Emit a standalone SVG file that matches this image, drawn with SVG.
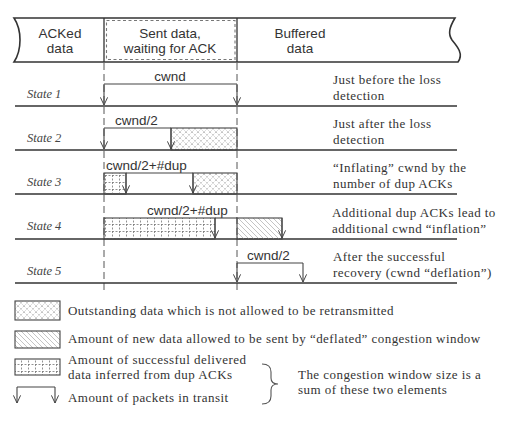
<svg xmlns="http://www.w3.org/2000/svg" width="508" height="421" viewBox="0 0 508 421">
<defs>
<style>
.sans{font-family:"Liberation Sans",Arial,sans-serif;font-size:13.5px;fill:#333}
.hdr{font-family:"Liberation Sans",Arial,sans-serif;font-size:13.5px;fill:#333;text-anchor:middle}
.st{font-family:"Liberation Serif","Times New Roman",serif;font-size:12.5px;font-style:italic;fill:#444}
.ser{font-family:"Liberation Serif","Times New Roman",serif;font-size:13px;letter-spacing:0.45px;fill:#333}
.row{stroke:#333;stroke-width:1.6;fill:none}
.box{stroke:#444;stroke-width:1.1}
.vd{stroke:#555;stroke-width:1;stroke-dasharray:7 4;fill:none}
.br{stroke:#444;stroke-width:1.1;fill:none}
.ar{stroke:#444;stroke-width:1.1;fill:none;marker-end:url(#v)}
</style>
<marker id="v" viewBox="0 0 10 10" refX="9.5" refY="5" markerWidth="9" markerHeight="9" markerUnits="userSpaceOnUse" orient="auto">
<path d="M1,1 L9.5,5 L1,9" fill="none" stroke="#444" stroke-width="1.1"/>
</marker>
<pattern id="cross" width="6" height="6" patternUnits="userSpaceOnUse">
<path d="M0,0L6,6M6,0L0,6" stroke="#aaa" stroke-width="0.7" stroke-dasharray="1.5 1"/>
</pattern>
<pattern id="diag" width="5" height="5" patternUnits="userSpaceOnUse">
<path d="M-1,-1L6,6M-1,4L1,6M4,-1L6,1" stroke="#aaa" stroke-width="0.7"/>
</pattern>
<pattern id="grid" width="7" height="7" patternUnits="userSpaceOnUse">
<path d="M0,0.5H7M0.5,0V7" stroke="#777" stroke-width="0.8" stroke-dasharray="2 1.5"/>
</pattern>
</defs>
<rect width="508" height="421" fill="#fff"/>

<g id="header">
<path d="M14,18 H455 C449,28 448,34 452,40 C457,46 464,54 458,62 H14 C22,50 22,30 14,18 Z" fill="#fff" stroke="#333" stroke-width="1.6"/>
<line x1="104" y1="18" x2="104" y2="62" stroke="#333" stroke-width="1.3"/>
<line x1="237" y1="18" x2="237" y2="62" stroke="#333" stroke-width="1.3"/>
<rect x="106.5" y="20.5" width="128.5" height="39" fill="none" stroke="#777" stroke-width="1.1" stroke-dasharray="3 2.5"/>
<text class="hdr" x="60" y="38">ACKed</text>
<text class="hdr" x="60" y="53">data</text>
<text class="hdr" x="170" y="38">Sent data,</text>
<text class="hdr" x="170" y="53">waiting for ACK</text>
<text class="hdr" x="300" y="38">Buffered</text>
<text class="hdr" x="300" y="53">data</text>
</g>

<g id="guides">
<line class="vd" x1="104" y1="63" x2="104" y2="292"/>
<line class="vd" x1="237" y1="63" x2="237" y2="292"/>
</g>

<g id="state1">
<line class="row" x1="15" y1="106" x2="457" y2="106"/>
<text class="st" x="27" y="98">State 1</text>
<text class="sans" x="170" y="81" text-anchor="middle">cwnd</text>
<line class="br" x1="104" y1="84" x2="237" y2="84"/>
<text class="ser" x="333" y="84">Just before the loss</text>
<text class="ser" x="333" y="100">detection</text>
</g>

<g id="state2">
<line class="row" x1="15" y1="150" x2="457" y2="150"/>
<text class="st" x="27" y="142">State 2</text>
<text class="sans" x="115" y="125">cwnd/2</text>
<rect class="box" x="171" y="128" width="66" height="22" fill="url(#cross)"/>
<line class="br" x1="104" y1="128" x2="171" y2="128"/>
<text class="ser" x="333" y="128">Just after the loss</text>
<text class="ser" x="333" y="144">detection</text>
</g>

<g id="state3">
<line class="row" x1="15" y1="194" x2="457" y2="194"/>
<text class="st" x="27" y="186">State 3</text>
<text class="sans" x="106" y="170">cwnd/2+#dup</text>
<rect class="box" x="104" y="173" width="22" height="21" fill="url(#grid)"/>
<rect class="box" x="193" y="173" width="44" height="21" fill="url(#cross)"/>
<line class="br" x1="126" y1="173" x2="193" y2="173"/>
<text class="ser" x="333" y="172">“Inflating” cwnd by the</text>
<text class="ser" x="333" y="188">number of dup ACKs</text>
</g>

<g id="state4">
<line class="row" x1="15" y1="239" x2="457" y2="239"/>
<text class="st" x="27" y="230">State 4</text>
<text class="sans" x="147" y="215">cwnd/2+#dup</text>
<rect class="box" x="104" y="218" width="111" height="21" fill="url(#grid)"/>
<rect class="box" x="237" y="218" width="45" height="21" fill="url(#diag)"/>
<line class="br" x1="215" y1="218" x2="237" y2="218"/>
<text class="ser" x="332" y="217">Additional dup ACKs lead to</text>
<text class="ser" x="332" y="233">additional cwnd “inflation”</text>
</g>

<g id="state5">
<line class="row" x1="15" y1="283" x2="457" y2="283"/>
<text class="st" x="27" y="275">State 5</text>
<text class="sans" x="247" y="260">cwnd/2</text>
<line class="br" x1="237" y1="263" x2="303" y2="263"/>
<text class="ser" x="333" y="261">After the successful</text>
<text class="ser" x="333" y="277">recovery (cwnd “deflation”)</text>
</g>

<g id="connectors">
<path class="ar" d="M104,84V105"/>
<path class="ar" d="M237,84V105"/>
<path class="ar" d="M104,128V149"/>
<path class="ar" d="M171,128V149"/>
<path class="ar" d="M126,173V193"/>
<path class="ar" d="M193,173V193"/>
<path class="ar" d="M215,218V238"/>
<path class="ar" d="M282,218V238"/>
<path class="ar" d="M237,263V282"/>
<path class="ar" d="M303,263V282"/>
</g>

<g id="legend-outstanding">
<rect class="box" x="15" y="301" width="45" height="19" fill="url(#cross)"/>
<text class="ser" x="68" y="315">Outstanding data which is not allowed to be retransmitted</text>
</g>
<g id="legend-new">
<rect class="box" x="15" y="331" width="45" height="17" fill="url(#diag)"/>
<text class="ser" x="68" y="343">Amount of new data allowed to be sent by “deflated” congestion window</text>
</g>
<g id="legend-delivered">
<rect class="box" x="15" y="359" width="45" height="16" fill="url(#grid)"/>
<text class="ser" x="68" y="364">Amount of successful delivered</text>
<text class="ser" x="68" y="379">data inferred from dup ACKs</text>
</g>
<g id="legend-transit">
<line class="br" x1="17" y1="387" x2="55" y2="387"/>
<path class="ar" d="M17,387V403"/>
<path class="ar" d="M55,387V403"/>
<text class="ser" x="68" y="402">Amount of packets in transit</text>
</g>
<g id="legend-sum">
<path d="M262,364 Q271,364 271,372 L271,378 Q271,384 278,384 Q271,384 271,390 L271,396 Q271,404 262,404" fill="none" stroke="#555" stroke-width="1.1"/>
<text class="ser" x="298" y="379">The congestion window size is a</text>
<text class="ser" x="298" y="394">sum of these two elements</text>
</g>
</svg>
